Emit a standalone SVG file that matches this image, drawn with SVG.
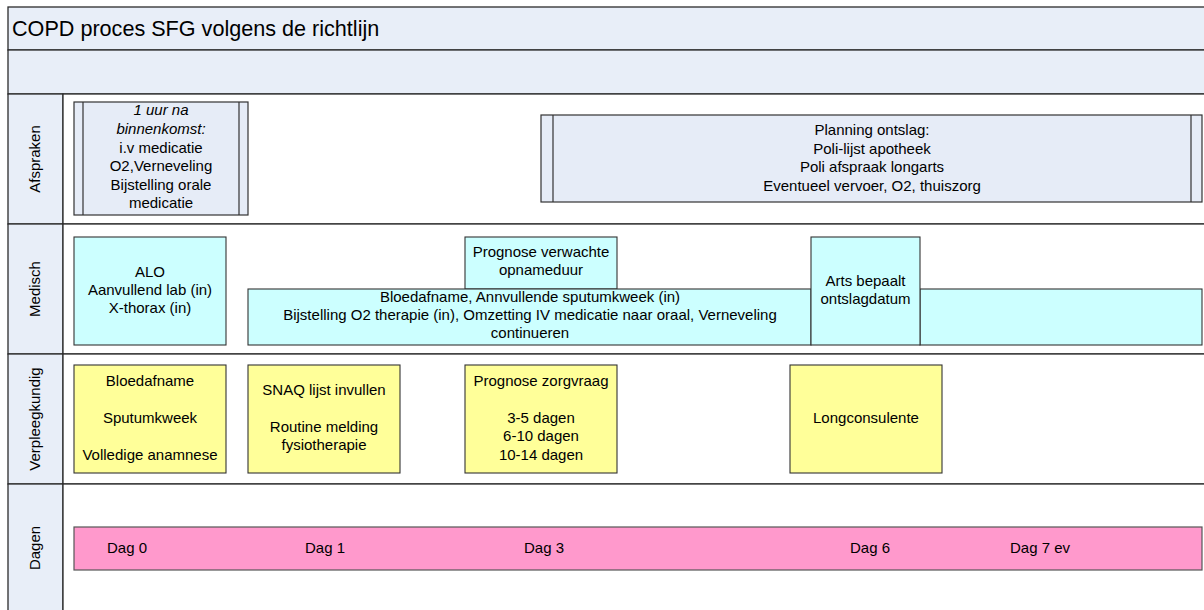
<svg xmlns="http://www.w3.org/2000/svg" width="1204" height="610" viewBox="0 0 1204 610">
<style>
text{font-family:"Liberation Sans",Arial,sans-serif;font-size:15px;fill:#000}
.c{text-anchor:middle}
.frame{fill:#E8EEF8;stroke:#2b2b2b;stroke-width:1.3}
.lane{fill:#ffffff;stroke:#2b2b2b;stroke-width:1.3}
.sub{fill:#E6ECF7;stroke:#333;stroke-width:1.2}
.med{fill:#CCFFFF;stroke:#333;stroke-width:1.1}
.nur{fill:#FFFF99;stroke:#333;stroke-width:1.1}
.day{fill:#FF99CC;stroke:#555;stroke-width:1.2}
.in{stroke:#333;stroke-width:1.2}
</style>
<rect width="1204" height="610" fill="#fff"/>
<g id="pool">
<rect class="frame" x="8" y="7" width="1200" height="43"/>
<text x="12" y="36" style="font-size:21.6px">COPD proces SFG volgens de richtlijn</text>
<rect class="frame" x="8" y="50" width="1200" height="44"/>
</g>
<g id="lane-afspraken">
<rect class="frame" x="8" y="94" width="55" height="130"/>
<rect class="lane" x="63" y="94" width="1145" height="130"/>
<text class="c" transform="translate(40,159) rotate(-90)">Afspraken</text>
</g>
<g id="lane-medisch">
<rect class="frame" x="8" y="224" width="55" height="130"/>
<rect class="lane" x="63" y="224" width="1145" height="130"/>
<text class="c" transform="translate(40,289) rotate(-90)">Medisch</text>
</g>
<g id="lane-verpleegkundig">
<rect class="frame" x="8" y="354" width="55" height="130"/>
<rect class="lane" x="63" y="354" width="1145" height="130"/>
<text class="c" transform="translate(40,419) rotate(-90)">Verpleegkundig</text>
</g>
<g id="lane-dagen">
<rect class="frame" x="8" y="484" width="55" height="130"/>
<rect class="lane" x="63" y="484" width="1145" height="130"/>
<text class="c" transform="translate(40,548) rotate(-90)">Dagen</text>
</g>
<g id="n-binnenkomst">
<rect class="sub" x="74" y="102" width="174" height="113"/>
<line class="in" x1="83" y1="102" x2="83" y2="215"/>
<line class="in" x1="239" y1="102" x2="239" y2="215"/>
<text class="c" x="161" y="115" font-style="italic">1 uur na</text>
<text class="c" x="161" y="134" font-style="italic">binnenkomst:</text>
<text class="c" x="161" y="152.5">i.v medicatie</text>
<text class="c" x="161" y="171">O2,Verneveling</text>
<text class="c" x="161" y="189.5">Bijstelling orale</text>
<text class="c" x="161" y="208">medicatie</text>
</g>
<g id="n-planning">
<rect class="sub" x="541" y="115" width="661" height="87"/>
<line class="in" x1="553" y1="115" x2="553" y2="202"/>
<line class="in" x1="1191" y1="115" x2="1191" y2="202"/>
<text class="c" x="872" y="135">Planning ontslag:</text>
<text class="c" x="872" y="153.5">Poli-lijst apotheek</text>
<text class="c" x="872" y="172">Poli afspraak longarts</text>
<text class="c" x="872" y="190.5">Eventueel vervoer, O2, thuiszorg</text>
</g>
<g id="n-alo">
<rect class="med" x="74" y="237" width="152" height="108"/>
<text class="c" x="150" y="277">ALO</text>
<text class="c" x="150" y="295">Aanvullend lab (in)</text>
<text class="c" x="150" y="313">X-thorax (in)</text>
</g>
<g id="n-prognose-opname">
<rect class="med" x="465" y="237" width="152" height="52"/>
<text class="c" x="541" y="257">Prognose verwachte</text>
<text class="c" x="541" y="275">opnameduur</text>
</g>
<g id="n-bloedafname-med">
<rect class="med" x="248" y="289" width="563" height="56"/>
<text class="c" x="530" y="302">Bloedafname, Annvullende sputumkweek (in)</text>
<text class="c" x="530" y="320">Bijstelling O2 therapie (in), Omzetting IV medicatie naar oraal, Verneveling</text>
<text class="c" x="530" y="338">continueren</text>
</g>
<g id="n-med-rest">
<rect class="med" x="920" y="289" width="282" height="56"/>
</g>
<g id="n-arts">
<rect class="med" x="811" y="237" width="109" height="108"/>
<text class="c" x="865.5" y="286">Arts bepaalt</text>
<text class="c" x="865.5" y="304">ontslagdatum</text>
</g>
<g id="n-bloedafname">
<rect class="nur" x="74" y="365" width="152" height="108"/>
<text class="c" x="150" y="386">Bloedafname</text>
<text class="c" x="150" y="423">Sputumkweek</text>
<text class="c" x="150" y="460">Volledige anamnese</text>
</g>
<g id="n-snaq">
<rect class="nur" x="248" y="365" width="152" height="108"/>
<text class="c" x="324" y="395">SNAQ lijst invullen</text>
<text class="c" x="324" y="432">Routine melding</text>
<text class="c" x="324" y="450">fysiotherapie</text>
</g>
<g id="n-zorgvraag">
<rect class="nur" x="465" y="365" width="152" height="108"/>
<text class="c" x="541" y="386">Prognose zorgvraag</text>
<text class="c" x="541" y="423">3-5 dagen</text>
<text class="c" x="541" y="441">6-10 dagen</text>
<text class="c" x="541" y="460">10-14 dagen</text>
</g>
<g id="n-longconsulente">
<rect class="nur" x="790" y="365" width="152" height="108"/>
<text class="c" x="866" y="423">Longconsulente</text>
</g>
<g id="n-dagen">
<rect class="day" x="74" y="527" width="1128" height="43"/>
<text x="107" y="553">Dag 0</text>
<text x="305" y="553">Dag 1</text>
<text x="524" y="553">Dag 3</text>
<text x="850" y="553">Dag 6</text>
<text x="1010" y="553">Dag 7 ev</text>
</g>
<g id="connectors"></g>
</svg>
